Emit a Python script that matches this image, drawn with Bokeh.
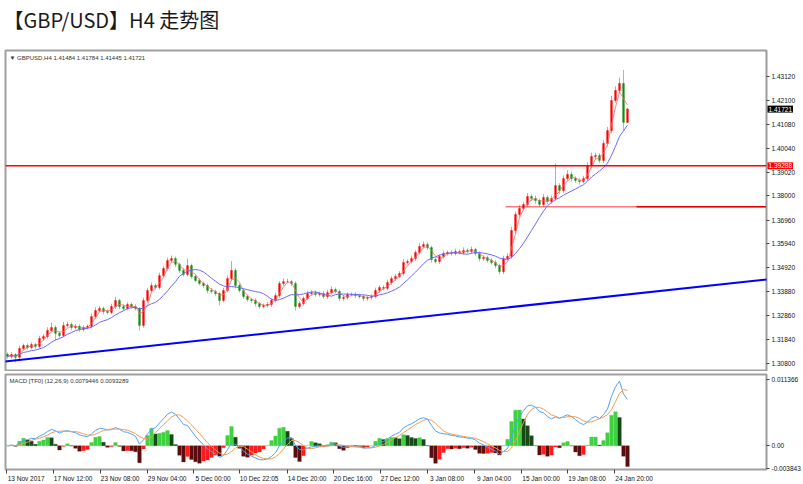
import numpy as np
import pandas as pd
from bokeh.plotting import figure
from bokeh.models import Range1d, FixedTicker, Span, Slope, Label, ColumnDataSource, NumeralTickFormatter
from bokeh.layouts import column
from bokeh.embed import file_html
from bokeh.resources import INLINE

title_text = "【GBP/USD】H4 走势图"
header_text = "▼ GBPUSD,H4  1.41484 1.41784 1.41445 1.41721"
macd_text = "MACD [TF0] (12,26,9) 0.0079446 0.0093289"

# closes of the (8-hour grouped) bars
first_open = 1.3120
closes = [
    1.3111, 1.3119, 1.3107, 1.3145, 1.3158, 1.3149, 1.3162, 1.3154, 1.3188, 1.3197,
    1.3222, 1.3235, 1.3210, 1.3201, 1.3244, 1.3248, 1.3235, 1.3240, 1.3227, 1.3235,
    1.3240, 1.3282, 1.3308, 1.3317, 1.3304, 1.3300, 1.3325, 1.3351, 1.3325, 1.3317,
    1.3334, 1.3325, 1.3317, 1.3244, 1.3351, 1.3394, 1.3415, 1.3407, 1.3458, 1.3488,
    1.3523, 1.3531, 1.3506, 1.3480, 1.3463, 1.3501, 1.3454, 1.3437, 1.3424, 1.3415,
    1.3394, 1.3390, 1.3381, 1.3351, 1.3394, 1.3445, 1.3480, 1.3415, 1.3394, 1.3368,
    1.3355, 1.3351, 1.3338, 1.3325, 1.3330, 1.3334, 1.3351, 1.3372, 1.3424, 1.3432,
    1.3432, 1.3424, 1.3325, 1.3338, 1.3360, 1.3381, 1.3385, 1.3377, 1.3381, 1.3368,
    1.3385, 1.3398, 1.3390, 1.3360, 1.3364, 1.3377, 1.3377, 1.3372, 1.3368, 1.3360,
    1.3364, 1.3368, 1.3394, 1.3407, 1.3403, 1.3428, 1.3445, 1.3454, 1.3467, 1.3514,
    1.3518, 1.3531, 1.3557, 1.3583, 1.3591, 1.3578, 1.3527, 1.3518, 1.3540, 1.3553,
    1.3557, 1.3553, 1.3561, 1.3557, 1.3565, 1.3561, 1.3570, 1.3553, 1.3531, 1.3535,
    1.3523, 1.3514, 1.3501, 1.3475, 1.3531, 1.3540, 1.3651, 1.3720, 1.3746, 1.3763,
    1.3797, 1.3789, 1.3780, 1.3763, 1.3793, 1.3776, 1.3789, 1.3844, 1.3823, 1.3874,
    1.3892, 1.3874, 1.3866, 1.3862, 1.3874, 1.3930, 1.3969, 1.3973, 1.3952, 1.4025,
    1.4080, 1.4209, 1.4252, 1.4282, 1.4115, 1.4172,
]
up_wick_pips = [
    8, 10, 6, 12, 8, 9, 10, 7, 12, 10,
    14, 22, 10, 8, 15, 12, 9, 10, 8, 9,
    8, 12, 14, 10, 8, 9, 12, 15, 8, 10,
    9, 8, 10, 6, 12, 10, 14, 9, 12, 10,
    12, 13, 9, 8, 10, 30, 8, 9, 10, 8,
    9, 10, 8, 6, 12, 14, 40, 10, 8, 9,
    8, 7, 9, 8, 8, 10, 9, 12, 10, 14,
    12, 8, 9, 10, 8, 12, 10, 9, 8, 10,
    12, 14, 9, 8, 10, 9, 8, 10, 8, 9,
    8, 10, 12, 10, 9, 12, 10, 9, 10, 14,
    10, 12, 10, 14, 13, 10, 8, 9, 10, 12,
    8, 10, 12, 9, 14, 10, 12, 8, 9, 10,
    8, 9, 10, 8, 12, 14, 16, 12, 14, 10,
    15, 10, 12, 9, 14, 10, 12, 95, 10, 14,
    18, 12, 10, 9, 12, 14, 16, 12, 10, 14,
    16, 20, 18, 25, 58, 6,
]
dn_wick_pips = [
    10, 8, 21, 8, 10, 9, 8, 10, 9, 8,
    10, 9, 30, 10, 8, 9, 12, 8, 10, 9,
    8, 9, 10, 8, 12, 9, 8, 10, 12, 9,
    8, 10, 9, 22, 10, 9, 8, 10, 9, 8,
    9, 10, 12, 10, 9, 8, 10, 9, 8, 10,
    12, 9, 10, 21, 8, 9, 10, 12, 9, 10,
    9, 10, 12, 10, 8, 9, 10, 8, 9, 10,
    8, 10, 17, 9, 10, 8, 9, 10, 9, 8,
    10, 8, 9, 12, 10, 9, 8, 10, 9, 12,
    10, 9, 8, 10, 9, 8, 10, 9, 8, 10,
    9, 8, 10, 9, 8, 10, 13, 9, 10, 8,
    9, 10, 8, 9, 10, 8, 9, 10, 12, 9,
    10, 9, 12, 12, 10, 9, 10, 12, 10, 9,
    10, 12, 14, 10, 9, 12, 10, 9, 14, 10,
    9, 12, 10, 14, 9, 10, 12, 14, 10, 12,
    14, 12, 10, 14, 35, 3,
]

price_ticks = [1.43120, 1.42100, 1.41080, 1.40040, 1.39020, 1.38000, 1.36960,
               1.35940, 1.34920, 1.33880, 1.32860, 1.31840, 1.30800]
time_tick_pos = [-0.25, 11.5, 23.25, 35, 46.5, 58, 70, 81.5, 93.25, 105, 116.75, 128.5, 140, 151.75]
time_tick_labels = ["13 Nov 2017", "17 Nov 12:00", "23 Nov 08:00", "29 Nov 04:00", "5 Dec 00:00",
                    "10 Dec 22:05", "14 Dec 20:00", "20 Dec 16:00", "27 Dec 12:00", "3 Jan 08:00",
                    "9 Jan 04:00", "15 Jan 00:00", "19 Jan 08:00", "24 Jan 20:00"]

resistance_level = 1.39288
support_level = 1.3753
support_start = 124.5
support_dark_start = 157.25
trend_gradient = 0.000185
trend_intercept = 1.3090
last_price = 1.41721

macd_ticks = [-0.003843, 0.0, 0.011366]
macd_tick_labels = ["-0.003843", "0.00", "0.011366"]

# ---------------- derived series ----------------
n = len(closes)
idx = np.arange(n)
c = np.array(closes)
o = np.array([first_open] + closes[:-1])
hi = np.maximum(o, c) + np.array(up_wick_pips) * 1e-4
lo = np.minimum(o, c) - np.array(dn_wick_pips) * 1e-4
BULL, BEAR = "#ff0000", "#138f13"
col = np.where(c >= o, BULL, BEAR)
s = pd.Series(closes)
ma_fast = s.rolling(3, min_periods=1).mean()
ma_slow = s.rolling(10, min_periods=1).mean()
ema_f = s.ewm(span=6, adjust=False).mean()
ema_s = s.ewm(span=13, adjust=False).mean()
macd = ema_f - ema_s
signal = macd.rolling(4, min_periods=1).mean()
hist = (macd - signal) * 2.3
hcol = []
for i, h in enumerate(hist):
    prev = hist.iloc[i - 1] if i > 0 else 0.0
    if h >= 0:
        hcol.append("#3fd13f" if h >= prev else "#174a17")
    else:
        hcol.append("#5c0d0d" if h < prev else "#ff1c1c")

src = ColumnDataSource(dict(x=idx, top=np.maximum(o, c), bottom=np.minimum(o, c), high=hi, low=lo, color=col,
                            maf=ma_fast, mas=ma_slow, macd=macd, sig=signal, hist=hist, hcol=hcol))

FONT = "Liberation Sans"
W = 803
RB = 37
LB = 5
xr = Range1d(-0.5, 189.75)

# ---------------- price panel ----------------
pA = figure(width=W, height=371, x_range=xr, y_range=Range1d(1.30464, 1.44235),
            output_backend="svg", toolbar_location=None, y_axis_location="right", x_axis_location=None,
            min_border_left=LB, min_border_right=RB, min_border_top=50, min_border_bottom=0)
pA.title.text = title_text
pA.title.text_font = "Noto Sans CJK SC"
pA.title.text_font_size = "20px"
pA.title.text_font_style = "normal"
pA.title.text_color = "#1a1a1a"
pA.title.align = "left"
pA.title.offset = -2
pA.title.standoff = 5
pA.grid.visible = False
pA.outline_line_color = "#a0a0a0"
pA.outline_line_width = 2
ya = pA.yaxis[0]
ya.ticker = FixedTicker(ticks=price_ticks)
ya.formatter = NumeralTickFormatter(format="0.00000")
ya.major_label_text_font = FONT
ya.major_label_text_font_size = "6.5px"
ya.major_label_text_color = "#111111"
ya.axis_line_color = "#9a9a9a"
ya.major_tick_line_color = "#444444"
ya.major_tick_out = 3
ya.major_tick_in = 0
ya.minor_tick_line_color = None
ya.major_label_standoff = 2

pA.add_layout(Slope(gradient=trend_gradient, y_intercept=trend_intercept, line_color="#0000ff", line_width=2))
pA.add_layout(Span(location=resistance_level, dimension="width", line_color="#ff0000", line_width=1.5))
pA.ray(x=[support_start], y=[support_level], length=0, angle=0, color="#ff7a7a", line_width=1.5)
pA.ray(x=[support_dark_start], y=[support_level], length=0, angle=0, color="#e60000", line_width=1.5)

pA.segment(x0="x", y0="low", x1="x", y1="high", color="color", line_alpha=0.45, line_width=1, source=src)
pA.vbar(x="x", width=0.42, top="top", bottom="bottom", fill_color="color", line_color="color",
        line_width=0.5, source=src)
pA.line("x", "maf", color="#ff6b6b", line_width=1, line_alpha=0.8, source=src)
pA.line("x", "mas", color="#6a6aff", line_width=1, source=src)

pA.add_layout(Label(x=xr.start, y=1.44235, x_offset=4, y_offset=-4, text=header_text, text_baseline="top",
                    text_font=FONT, text_font_size="6px", text_color="#333333"))
# price boxes on the right scale (side panel so they are not clipped to the frame)
pA.add_layout(Label(x=xr.end, y=resistance_level, x_offset=1, text=f"{resistance_level:.5f}",
                    text_baseline="middle", text_align="left", text_font=FONT, text_font_size="6.5px",
                    text_color="white", background_fill_color="#ff0000", padding=1), "above")
pA.add_layout(Label(x=xr.end, y=last_price, x_offset=1, text=f"{last_price:.5f}",
                    text_baseline="middle", text_align="left", text_font=FONT, text_font_size="6.5px",
                    text_color="white", background_fill_color="#000000", padding=1), "above")

# ---------------- MACD panel ----------------
pB = figure(width=W, height=113, x_range=xr, y_range=Range1d(-0.00405, 0.01218),
            output_backend="svg", toolbar_location=None, y_axis_location="right",
            min_border_left=LB, min_border_right=RB, min_border_top=3, min_border_bottom=10)
pB.grid.visible = False
pB.outline_line_color = "#a0a0a0"
pB.outline_line_width = 2
yb = pB.yaxis[0]
yb.ticker = FixedTicker(ticks=macd_ticks)
yb.major_label_overrides = {t: l for t, l in zip(macd_ticks, macd_tick_labels)}
yb.major_label_text_font = FONT
yb.major_label_text_font_size = "6.5px"
yb.major_label_text_color = "#111111"
yb.axis_line_color = "#9a9a9a"
yb.major_tick_line_color = "#444444"
yb.major_tick_out = 3
yb.major_tick_in = 0
yb.minor_tick_line_color = None
yb.major_label_standoff = 2

centers = [round(p + 4.9, 3) for p in time_tick_pos]
xb = pB.xaxis[0]
xb.ticker = FixedTicker(ticks=centers, minor_ticks=time_tick_pos)
xb.major_label_overrides = {t: l for t, l in zip(centers, time_tick_labels)}
xb.major_label_text_font = FONT
xb.major_label_text_font_size = "6.5px"
xb.major_label_text_color = "#111111"
xb.axis_line_color = None
xb.major_tick_line_color = None
xb.major_tick_out = 0
xb.major_tick_in = 0
xb.minor_tick_line_color = "#444444"
xb.minor_tick_out = 4
xb.minor_tick_in = 0
xb.major_label_standoff = 1

pB.vbar(x="x", width=0.9, top="hist", bottom=0, fill_color="hcol", line_color="hcol", line_width=0.3, source=src)
pB.line("x", "macd", color="#4da3f5", line_width=1, source=src)
pB.line("x", "sig", color="#ef9a5a", line_width=1, source=src)
pB.add_layout(Label(x=xr.start, y=0.01218, x_offset=4, y_offset=-3, text=macd_text, text_baseline="top",
                    text_font=FONT, text_font_size="6px", text_color="#333333"))

layout = column(pA, pB, spacing=0)
open("out.html", "w").write(file_html(layout, INLINE))
